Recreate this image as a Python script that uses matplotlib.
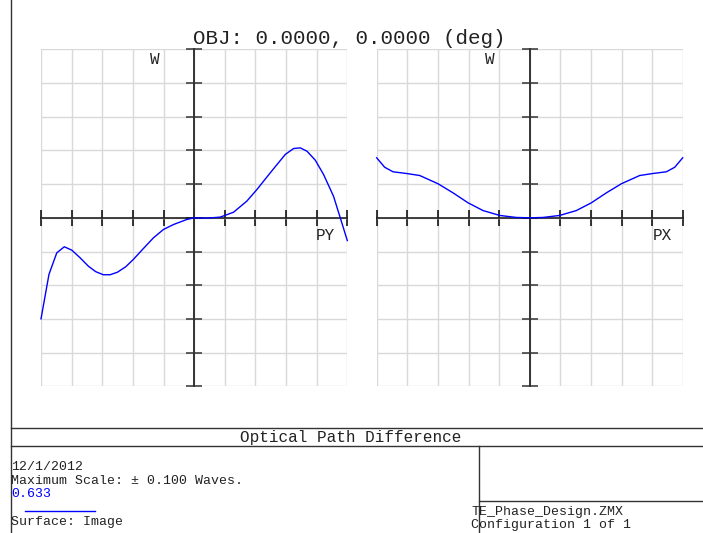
import matplotlib
matplotlib.use("Agg")
import matplotlib.pyplot as plt
from matplotlib.lines import Line2D
import numpy as np

# ---- data (waves vs normalized pupil coordinate) ----
py_pupil = [-1.0, -0.948, -0.897, -0.848, -0.799, -0.745, -0.691, -0.642, -0.593,
            -0.549, -0.501, -0.446, -0.397, -0.331, -0.266, -0.2, -0.135, -0.048,
            0.0, 0.083, 0.17, 0.257, 0.344, 0.41, 0.497, 0.595, 0.649, 0.693,
            0.737, 0.791, 0.845, 0.91, 0.954, 1.0]
py_opd = [-0.060, -0.0336, -0.0208, -0.0172, -0.0192, -0.0237, -0.0287, -0.0320,
          -0.0338, -0.0338, -0.0323, -0.0290, -0.0247, -0.0182, -0.0119, -0.0069,
          -0.0040, -0.0010, 0.0, -0.0002, 0.0004, 0.0033, 0.0099, 0.0168, 0.0267,
          0.0376, 0.0411, 0.0415, 0.0395, 0.0342, 0.0257, 0.0128, 0.0, -0.0135]

px_pupil = [-1.0, -0.948, -0.893, -0.806, -0.719, -0.599, -0.501, -0.403, -0.305,
            -0.196, -0.087, 0.0, 0.087, 0.196, 0.305, 0.403, 0.501, 0.599, 0.719,
            0.806, 0.893, 0.948, 1.0]
px_opd = [0.0356, 0.0300, 0.0273, 0.0263, 0.0251, 0.0202, 0.0148, 0.0089, 0.0043,
          0.0014, 0.0002, 0.0, 0.0002, 0.0014, 0.0043, 0.0089, 0.0148, 0.0202,
          0.0251, 0.0263, 0.0273, 0.0300, 0.0356]

max_scale = 0.1
title = "OBJ: 0.0000, 0.0000 (deg)"
plot_name = "Optical Path Difference"
info_lines = ["12/1/2012", "Maximum Scale: \u00b1 0.100 Waves."]
wavelength = "0.633"
surface = "Surface: Image"
file_lines = ["TE_Phase_Design.ZMX", "Configuration 1 of 1"]

W, H = 703, 533
fig = plt.figure(figsize=(W / 100, H / 100), dpi=100)
fig.patch.set_facecolor("white")
mono = "Liberation Mono"
txt_col = "#222222"
small = 9.5


def fx(x):
    return x / W


def fy(y):
    return 1 - y / H


def fan(x0, x1, y0, y1, xs, ys):
    ax = fig.add_axes([fx(x0), fy(y1), (x1 - x0) / W, (y1 - y0) / H])
    ax.set_xlim(-1, 1)
    ax.set_ylim(-max_scale, max_scale)
    ax.set_xticks(np.linspace(-1, 1, 11))
    ax.set_yticks(np.linspace(-max_scale, max_scale, 11))
    ax.grid(True, color="#d9d9d9", lw=1.0)
    ax.set_axisbelow(True)
    for s in ["top", "right"]:
        ax.spines[s].set_visible(False)
    ax.spines["left"].set_position("zero")
    ax.spines["bottom"].set_position("zero")
    ax.spines["left"].set_color("#333333")
    ax.spines["bottom"].set_color("#111111")
    ax.spines["left"].set_linewidth(1.4)
    ax.spines["bottom"].set_linewidth(1.1)
    ax.tick_params(axis="both", direction="inout", length=11.5, width=1.1,
                   labelbottom=False, labelleft=False)
    ax.tick_params(axis="y", color="#333333")
    ax.plot(xs, ys, color="#0000ff", lw=1.0, clip_on=False, zorder=5)
    ax.set_facecolor("none")
    return ax


fan(41, 347.3, 49.3, 386.3, py_pupil, py_opd)
fan(376.7, 682.7, 49.3, 386.3, px_pupil, px_opd)

# labels
fig.text(fx(349), fy(38), title, ha="center", va="center", fontsize=15,
         family=mono, color=txt_col)
for x, s in [(155, "W"), (490, "W")]:
    fig.text(fx(x), fy(59), s, ha="center", va="center", fontsize=11.5,
             family=mono, color=txt_col)
fig.text(fx(325), fy(236), "PY", ha="center", va="center", fontsize=11.5,
         family=mono, color=txt_col)
fig.text(fx(662), fy(236), "PX", ha="center", va="center", fontsize=11.5,
         family=mono, color=txt_col)

# frame lines
frame_col = "#333333"


def hline(x0, x1, y):
    fig.add_artist(Line2D([fx(x0), fx(x1)], [fy(y), fy(y)], color=frame_col,
                          lw=1.0, transform=fig.transFigure))


def vline(x, y0, y1):
    fig.add_artist(Line2D([fx(x), fx(x)], [fy(y0), fy(y1)], color=frame_col,
                          lw=1.0, transform=fig.transFigure))


vline(11, 0, 533)
hline(11, 703, 428)
hline(11, 703, 446)
vline(479, 446, 533)
hline(479, 703, 501)

fig.text(fx(351), fy(437.5), plot_name, ha="center", va="center", fontsize=11.5,
         family=mono, color=txt_col)
fig.text(fx(11), fy(467.5), info_lines[0], ha="left", va="center", fontsize=small,
         family=mono, color=txt_col)
fig.text(fx(11), fy(481), info_lines[1], ha="left", va="center", fontsize=small,
         family=mono, color=txt_col)
fig.text(fx(11), fy(494), wavelength, ha="left", va="center", fontsize=small,
         family=mono, color="#0000ff")
fig.add_artist(Line2D([fx(25), fx(95)], [fy(511), fy(511)], color="#0000ff",
                      lw=1.0, transform=fig.transFigure))
fig.text(fx(11), fy(522), surface, ha="left", va="center", fontsize=small,
         family=mono, color=txt_col)
fig.text(fx(471), fy(512), file_lines[0], ha="left", va="center", fontsize=small,
         family=mono, color=txt_col)
fig.text(fx(471), fy(525), file_lines[1], ha="left", va="center", fontsize=small,
         family=mono, color=txt_col)

fig.savefig("out.png", dpi=100, facecolor="white")
